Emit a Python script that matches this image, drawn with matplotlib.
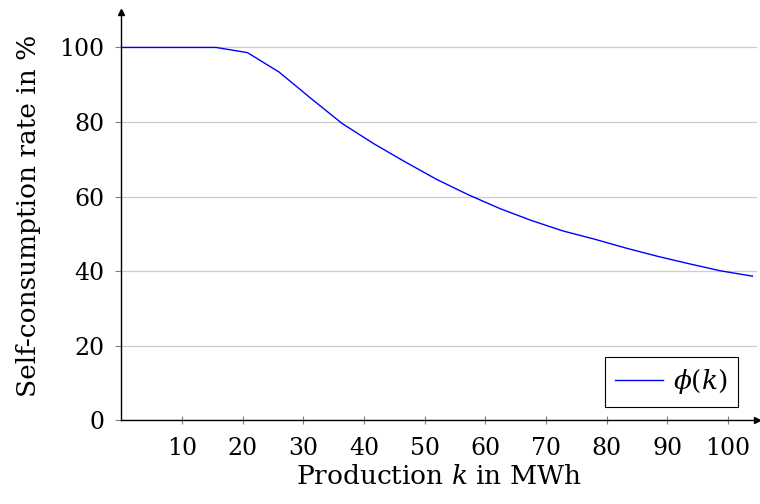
import matplotlib
matplotlib.use("Agg")
import matplotlib.pyplot as plt

# production k in MWh (sampled every 5.2 MWh) and self-consumption rate in %
k_vals = [0.0, 5.2, 10.4, 15.6, 20.8, 26.0, 31.2, 36.4, 41.6, 46.8, 52.0,
          57.2, 62.4, 67.6, 72.8, 78.0, 83.2, 88.4, 93.6, 98.8, 104.0]
phi_vals = [100.0, 100.0, 100.0, 100.0, 98.6, 93.4, 86.4, 79.6, 74.2, 69.3, 64.6,
            60.5, 56.8, 53.6, 50.8, 48.6, 46.2, 44.0, 42.0, 40.1, 38.7]

x_ticks = [10, 20, 30, 40, 50, 60, 70, 80, 90, 100]
y_ticks = [0, 20, 40, 60, 80, 100]

plt.rcParams["font.family"] = ["DejaVu Serif"]
plt.rcParams["mathtext.fontset"] = "dejavuserif"

fig = plt.figure(figsize=(7.6, 5.04), dpi=100)
ax = fig.add_axes([0.1596, 0.1657, 0.836, 0.8105])

ax.plot(k_vals, phi_vals, color="#0000ff", lw=1.0, label=r"$\phi(k)$")

ax.set_xlim(0, 104.7)
ax.set_ylim(0, 109.5)
ax.set_xticks(x_ticks)
ax.set_yticks(y_ticks)
ax.tick_params(axis="x", direction="inout", length=6, width=0.8,
               color="gray", labelsize=17, pad=9)
ax.tick_params(axis="y", direction="out", length=4, width=0.8,
               color="gray", labelsize=17, pad=8)

ax.grid(axis="y", color="#cccccc", lw=0.9)
ax.set_axisbelow(True)

for s in ["top", "right"]:
    ax.spines[s].set_visible(False)
for s in ["left", "bottom"]:
    ax.spines[s].set_linewidth(1.0)
    ax.spines[s].set_zorder(3)

# arrow heads at the end of the axis lines
ax.plot(1, 0, ">k", ms=5, transform=ax.transAxes, clip_on=False)
ax.plot(0, 1, "^k", ms=5, transform=ax.transAxes, clip_on=False)

ax.set_xlabel(r"Production $k$ in MWh", fontsize=19, labelpad=3)
ax.set_ylabel("Self-consumption rate in %", fontsize=19, labelpad=13)

leg = ax.legend(loc="lower right", bbox_to_anchor=(738.5 / 760, (504 - 406.7) / 504),
                bbox_transform=fig.transFigure, fontsize=19, fancybox=False,
                framealpha=1, edgecolor="black", handlelength=1.8,
                borderpad=0.4, handletextpad=0.4, borderaxespad=0)
leg.get_frame().set_linewidth(0.8)

fig.savefig("out.png", dpi=100)
